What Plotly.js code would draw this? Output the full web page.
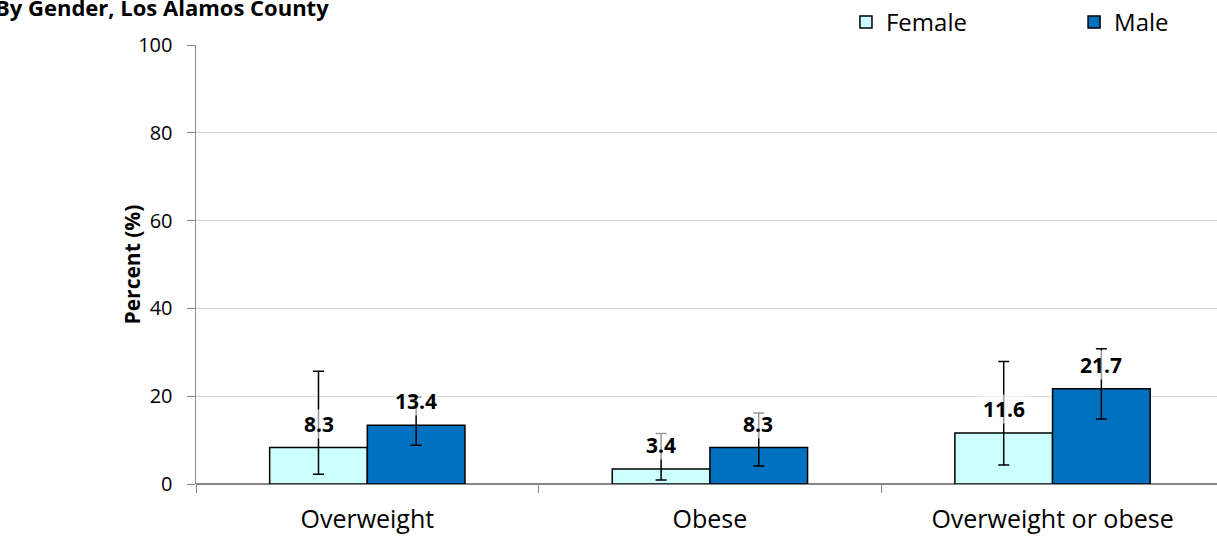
<!DOCTYPE html>
<html>
<head>
<meta charset="utf-8">
<script src="https://cdn.plot.ly/plotly-3.0.1.min.js"></script>
<style>html,body{margin:0;padding:0;background:#fff;}#chart{width:1217px;height:540px;}</style>
</head>
<body>
<div id="chart"></div>
<script>
const categories = ["Overweight", "Obese", "Overweight or obese"];
const seriesNames = ["Female", "Male"];
const femaleValues = [8.3, 3.4, 11.6];
const femaleUpper = [25.7, 11.5, 27.9];
const femaleLower = [2.2, 0.9, 4.3];
const maleValues = [13.4, 8.3, 21.7];
const maleUpper = [19.8, 16.2, 30.8];
const maleLower = [8.8, 4.1, 14.8];
const yTicks = [0, 20, 40, 60, 80, 100];
const chartTitle = "By Gender, Los Alamos County";
const yTitle = "Percent (%)";

const FONT = "Open Sans, sans-serif";
const colors = ["#CCFFFF", "#0070C0"];

function makeTrace(name, vals, up, lo, color, legendId) {
  return {
    type: "bar",
    name: name,
    legend: legendId,
    x: categories,
    y: vals,
    marker: {color: color, line: {color: "#000000", width: 1.5}},
    error_y: {
      type: "data", symmetric: false,
      array: vals.map((v, i) => +(up[i] - v).toFixed(2)),
      arrayminus: vals.map((v, i) => +(v - lo[i]).toFixed(2)),
      color: "#000000", thickness: 1.5, width: 5.5
    },
    hoverinfo: "skip"
  };
}

const traces = [
  makeTrace(seriesNames[0], femaleValues, femaleUpper, femaleLower, colors[0], "legend"),
  makeTrace(seriesNames[1], maleValues, maleUpper, maleLower, colors[1], "legend2")
];

const annotations = [];
[femaleValues, maleValues].forEach((vals, s) => {
  vals.forEach((v, i) => {
    annotations.push({
      x: categories[i], y: v, xref: "x", yref: "y",
      text: "<b>" + v.toFixed(1) + "</b>",
      showarrow: false, xanchor: "center", yanchor: "middle",
      xshift: s === 0 ? -48.5 : 48.5, yshift: 24,
      font: {family: FONT, size: 21, color: "#000000"},
      bgcolor: "rgba(255,255,255,0.6)", borderpad: 0
    });
  });
});
annotations.push({
  text: "<b>" + chartTitle + "</b>",
  xref: "paper", yref: "paper", x: 0, y: 1,
  xanchor: "left", yanchor: "middle", xshift: -203, yshift: 38,
  showarrow: false, font: {family: FONT, size: 22, color: "#000000"}
});
annotations.push({
  text: "<b>" + yTitle + "</b>",
  xref: "paper", yref: "paper", x: 0, y: 0.5,
  xanchor: "center", yanchor: "middle", xshift: -65, textangle: -90,
  showarrow: false, font: {family: FONT, size: 21, color: "#000000"}
});

const legendBase = {
  orientation: "h", y: 1, yref: "container", yanchor: "top", xanchor: "left",
  font: {family: FONT, size: 24, color: "#000000"}, bgcolor: "rgba(0,0,0,0)"
};

const layout = {
  width: 1217, height: 540,
  margin: {l: 196, r: 0, t: 45, b: 56},
  paper_bgcolor: "#ffffff", plot_bgcolor: "#ffffff",
  font: {family: FONT, color: "#000000"},
  barmode: "group", bargap: 0.43, bargroupgap: 0,
  showlegend: true,
  legend: Object.assign({}, legendBase, {x: 0.6366}),
  legend2: Object.assign({}, legendBase, {x: 0.860}),
  xaxis: {
    type: "category", range: [-0.5, 2.48],
    showgrid: false, showline: false, zeroline: false,
    ticks: "outside", tickson: "boundaries", ticklen: 8, tickcolor: "#868686", tickwidth: 1,
    ticklabelstandoff: 18,
    tickfont: {family: FONT, size: 25, color: "#000000"}
  },
  yaxis: {
    range: [0, 100], tickvals: yTicks, ticktext: yTicks.map(String),
    showgrid: true, gridcolor: "#d9d9d9", gridwidth: 1,
    zeroline: true, zerolinecolor: "#868686", zerolinewidth: 1.5,
    showline: true, linecolor: "#868686", linewidth: 1.5,
    ticks: "outside", ticklen: 8, tickcolor: "#868686",
    ticklabelstandoff: 10,
    tickfont: {family: FONT, size: 20, color: "#000000"}
  },
  annotations: annotations
};

Plotly.newPlot("chart", traces, layout, {displayModeBar: false, staticPlot: true});
</script>
</body>
</html>
